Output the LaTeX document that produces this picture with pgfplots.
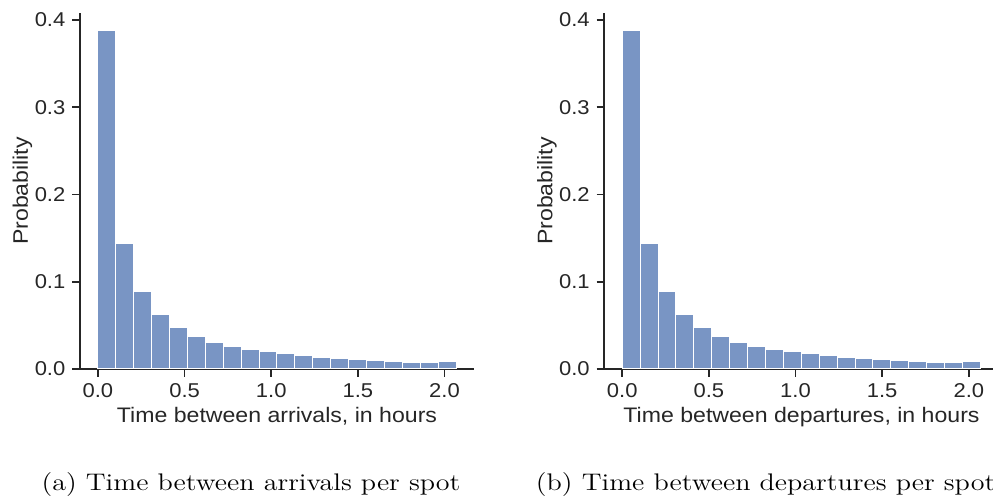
\documentclass[border=0pt]{standalone}
\usepackage{fontspec}
\setmainfont{Liberation Sans}[FakeStretch=1.1]
\newfontfamily\capfont{Latin Modern Roman}[FakeStretch=1.17]
\usepackage{pgfplots}
\usepackage{pgfplotstable}
\pgfplotsset{compat=1.18}
\definecolor{barblue}{RGB}{121,149,196}
\definecolor{axgray}{RGB}{38,38,38}

\pgfplotstableread{
x y
0.0000 0.3885
0.1033 0.1437
0.2067 0.0886
0.3100 0.0630
0.4133 0.0470
0.5167 0.0367
0.6200 0.0302
0.7233 0.0260
0.8267 0.0229
0.9300 0.0206
1.0333 0.0183
1.1367 0.0149
1.2400 0.0130
1.3433 0.0115
1.4467 0.0107
1.5500 0.0092
1.6533 0.0084
1.7567 0.0076
1.8600 0.0069
1.9633 0.0084
2.0667 0.0084
}\arrivals

\pgfplotstableread{
x y
0.0000 0.3885
0.1033 0.1437
0.2067 0.0886
0.3100 0.0630
0.4133 0.0470
0.5167 0.0367
0.6200 0.0302
0.7233 0.0260
0.8267 0.0229
0.9300 0.0206
1.0333 0.0183
1.1367 0.0152
1.2400 0.0130
1.3433 0.0115
1.4467 0.0107
1.5500 0.0092
1.6533 0.0084
1.7567 0.0076
1.8600 0.0069
1.9633 0.0084
2.0667 0.0084
}\departures

\pgfplotsset{
  hist/.style={
    scale only axis,
    height=178pt,
    xmin=-0.1033, ymin=0, ymax=0.408,
    axis x line*=bottom, axis y line*=left,
    axis line style={axgray, line width=0.8pt, -},
    every tick/.style={axgray, line width=0.8pt},
    major tick length=3.8pt, tick align=outside,
    xtick={0,0.5,1,1.5,2}, ytick={0,0.1,0.2,0.3,0.4},
    minor tick num=0,
    tick label style={font=\fontsize{10}{12}\selectfont, text=axgray},
    /pgf/number format/.cd, fixed, fixed zerofill, precision=1, assume math mode=true, /pgfplots/.cd,
    label style={font=\fontsize{10.5}{12}\selectfont, text=axgray},
    ylabel=Probability,
  }
}

\begin{document}
\begin{tikzpicture}
\useasboundingbox (0,0) rectangle (496.5pt,251pt);

\begin{axis}[hist, at={(40pt,66.5pt)}, anchor=south west,
  width=197pt, xmax=2.17,
  xlabel={Time between arrivals, in hours},
  xlabel style={at={(axis description cs:0.5,-0.1517)}, anchor=base},
  ylabel style={at={(axis description cs:-0.132,0.5)}, anchor=base},
]
\addplot[ybar interval, fill=barblue, draw=white, line width=0.5pt] table[x=x,y=y] {\arrivals};
\end{axis}

\begin{axis}[hist, at={(302.15pt,66.5pt)}, anchor=south west,
  width=194.5pt, xmax=2.1411,
  xlabel={Time between departures, in hours},
  xlabel style={at={(axis description cs:0.507,-0.1517)}, anchor=base},
  ylabel style={at={(axis description cs:-0.1337,0.5)}, anchor=base},
]
\addplot[ybar interval, fill=barblue, draw=white, line width=0.5pt] table[x=x,y=y] {\departures};
\end{axis}

\node[anchor=base, font=\capfont\fontsize{12}{14}\selectfont] at (125.5pt,5.5pt) {(a) Time between arrivals per spot};
\node[anchor=base, font=\capfont\fontsize{12}{14}\selectfont] at (382.8pt,5.5pt) {(b) Time between departures per spot};
\end{tikzpicture}
\end{document}
